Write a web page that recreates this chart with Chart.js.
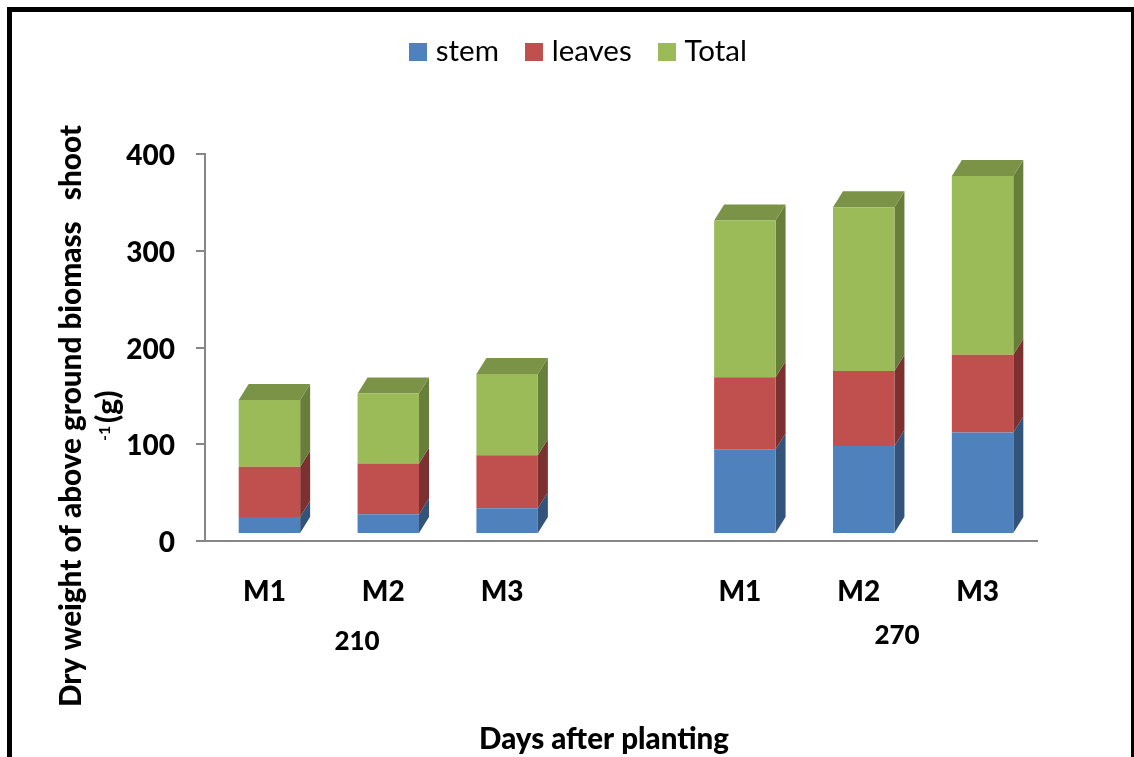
<!DOCTYPE html>
<html>
<head>
<meta charset="utf-8">
<title>Dry weight of above ground biomass</title>
<script src="https://cdn.jsdelivr.net/npm/chart.js@4/dist/chart.umd.min.js"></script>
<style>
    html, body { margin: 0; padding: 0; background: #fff; overflow: hidden; }
    #wrap { position: relative; width: 1134px; height: 757px; overflow: hidden; }
    #frame { position: absolute; left: 7px; top: 7px; width: 1119px; height: 800px; border: solid #000; border-width: 5px 3px 5px 5px; }
    canvas { position: absolute; left: 0; top: 0; }
</style>
</head>
<body>
<div id="wrap">
    <div id="frame"></div>
    <canvas id="chart" width="1134" height="757"></canvas>
</div>
<script>
// Values
const categories = ['M1', 'M2', 'M3', '', 'M1', 'M2', 'M3'];
const stem = [17.6, 20.3, 26.6, null, 87.7, 91, 105];
const leaves = [51.8, 52.5, 54.9, null, 74.2, 77.6, 80.3];
const total = [69, 72.5, 83.9, null, 162.1, 169.1, 184.7];
const yTicks = [0, 100, 200, 300, 400];
const groupLabels = ['210', '270'];
const xTitle = 'Days after planting';
const yTitle = 'Dry weight of above ground biomass   shoot';

const FONT = 'Lato, sans-serif';
const HEAVY = 900;
const DEPTH_X = 10;
const DEPTH_Y = 16;
const SHIFT_X = 5;
const SHIFT_Y = -7;
const frontColors = ['#4f81bd', '#c0504d', '#9bbb59'];
const sideColors = ['#32547a', '#7c3130', '#677f3a'];
const topColor = '#7a9346';

// Legend swatch: the legend's own gap after the box is too wide, so the
// swatch is a picture that hangs over a narrow box
function swatch(color) {
    const c = document.createElement('canvas');
    c.width = 18;
    c.height = 18;
    const g = c.getContext('2d');
    g.fillStyle = color;
    g.fillRect(0, 0, 18, 18);
    return c;
}
const swatches = frontColors.map(swatch);

// Fake 3D: bars sit off the axis, with a side face and a lid
const bars3d = {
    id: 'bars3d',
    beforeDatasetsDraw(chart) {
        const ctx = chart.ctx;
        ctx.save();
        ctx.translate(SHIFT_X, SHIFT_Y);
        chart.data.datasets.forEach((ds, d) => {
            chart.getDatasetMeta(d).data.forEach((bar, i) => {
                if (ds.data[i] == null) return;
                const right = bar.x + bar.width / 2;
                const left = bar.x - bar.width / 2;
                ctx.fillStyle = sideColors[d];
                ctx.beginPath();
                ctx.moveTo(right, bar.base);
                ctx.lineTo(right + DEPTH_X, bar.base - DEPTH_Y);
                ctx.lineTo(right + DEPTH_X, bar.y - DEPTH_Y);
                ctx.lineTo(right, bar.y);
                ctx.closePath();
                ctx.fill();
                if (d === chart.data.datasets.length - 1) {
                    ctx.fillStyle = topColor;
                    ctx.beginPath();
                    ctx.moveTo(left, bar.y);
                    ctx.lineTo(left + DEPTH_X, bar.y - DEPTH_Y);
                    ctx.lineTo(right + DEPTH_X, bar.y - DEPTH_Y);
                    ctx.lineTo(right, bar.y);
                    ctx.closePath();
                    ctx.fill();
                }
            });
        });
    },
    afterDatasetsDraw(chart) {
        chart.ctx.restore();
    }
};

// Free text round the plot
const chartText = {
    id: 'chartText',
    afterDraw(chart) {
        const ctx = chart.ctx;
        ctx.save();
        ctx.fillStyle = '#000';
        ctx.textAlign = 'center';
        ctx.textBaseline = 'middle';

        ctx.font = HEAVY + ' 26px ' + FONT;
        ctx.fillText(groupLabels[0], 357, 642);
        ctx.fillText(groupLabels[1], 897, 636);

        ctx.font = HEAVY + ' 30px ' + FONT;
        ctx.fillText(xTitle, 604, 739, 250);

        ctx.translate(71, 416);
        ctx.rotate(-Math.PI / 2);
        ctx.fillText(yTitle, 0, 0, 582);
        ctx.restore();

        ctx.save();
        ctx.fillStyle = '#000';
        ctx.textBaseline = 'alphabetic';
        ctx.textAlign = 'left';
        ctx.translate(118, 441);
        ctx.rotate(-Math.PI / 2);
        ctx.font = 'bold 16px ' + FONT;
        ctx.fillText('-1', 0, -8);
        ctx.font = HEAVY + ' 30px ' + FONT;
        ctx.fillText('(g)', 18, 0);
        ctx.restore();
    }
};

// Room under the legend's row down to the top of the plot
const legendRoom = {
    id: 'legendRoom',
    beforeInit(chart) {
        const fit = chart.legend.fit;
        chart.legend.fit = function () {
            fit.call(this);
            this.height = 149;
        };
    }
};

new Chart(document.getElementById('chart'), {
    type: 'bar',
    data: {
        labels: categories,
        datasets: [
            { label: 'stem', data: stem, backgroundColor: frontColors[0] },
            { label: 'leaves', data: leaves, backgroundColor: frontColors[1] },
            { label: 'Total', data: total, backgroundColor: frontColors[2] }
        ]
    },
    options: {
        responsive: false,
        animation: false,
        layout: { padding: { left: 28, top: 5, right: 0, bottom: 0 } },
        datasets: { bar: { barPercentage: 0.517, categoryPercentage: 1 } },
        plugins: {
            tooltip: { enabled: false },
            legend: {
                position: 'top',
                labels: {
                    usePointStyle: true,
                    pointStyleWidth: 6,
                    boxHeight: 18,
                    padding: 32,
                    color: '#000',
                    font: { family: FONT, size: 29.5 },
                    generateLabels(chart) {
                        return Chart.defaults.plugins.legend.labels.generateLabels(chart).map((item, i) => {
                            item.pointStyle = swatches[i];
                            return item;
                        });
                    }
                }
            }
        },
        scales: {
            x: {
                stacked: true,
                afterFit(s) { s.height = 216; },
                grid: { display: false },
                border: { color: '#868686', width: 2 },
                ticks: {
                    autoSkip: false,
                    maxRotation: 0,
                    padding: 26,
                    color: '#000',
                    font: { family: FONT, size: 28, weight: HEAVY }
                }
            },
            y: {
                stacked: true,
                min: 0,
                max: 400,
                afterFit(s) { s.width = 177; },
                afterBuildTicks(s) { s.ticks = yTicks.map(v => ({ value: v })); },
                grid: { drawOnChartArea: false, drawTicks: true, tickLength: 9, color: '#868686', lineWidth: 2 },
                border: { color: '#868686', width: 2 },
                ticks: {
                    padding: 21,
                    labelOffset: 2,
                    color: '#000',
                    font: { family: FONT, size: 28, weight: HEAVY }
                }
            },
            // empty axis, only keeps the plot clear of the right edge
            spacer: {
                position: 'right',
                afterFit(s) { s.width = 97; },
                grid: { display: false },
                border: { display: false },
                ticks: { display: false }
            }
        }
    },
    plugins: [legendRoom, bars3d, chartText]
});
</script>
</body>
</html>
